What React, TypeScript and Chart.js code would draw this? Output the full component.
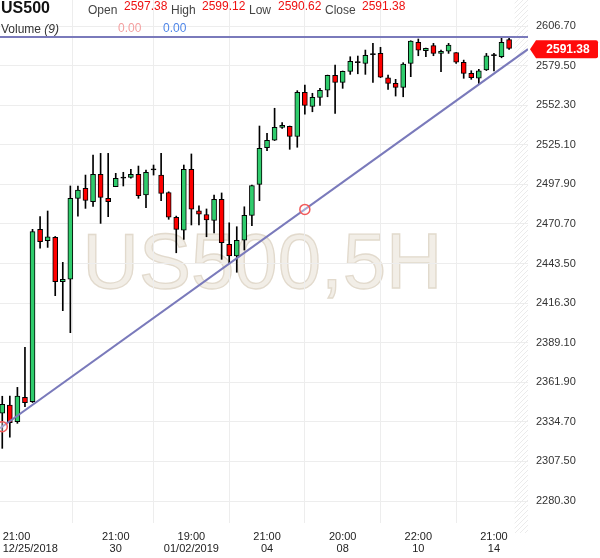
import React, { useEffect, useRef } from 'react';
import { Chart, registerables } from 'chart.js';
Chart.register(...registerables);

// ---- data (5H candles, US500) ----
const opens = [
  2340.6, 2346.3, 2334.8, 2351.6, 2348.5, 2467.0, 2459.2, 2461.5, 2431.0, 2432.7,
  2488.3, 2495.2, 2486.0, 2504.8, 2488.3, 2496.3, 2502.1, 2502.7, 2504.8, 2490.6,
  2507.8, 2504.3, 2492.2, 2475.3, 2466.5, 2508.2, 2479.8, 2477.2, 2473.1, 2487.6,
  2456.7, 2448.7, 2459.5, 2476.6, 2497.9, 2523.1, 2528.2, 2537.1, 2537.8, 2530.8,
  2561.2, 2551.5, 2557.7, 2562.7, 2572.8, 2568.0, 2575.6, 2581.5, 2581.1, 2587.0,
  2587.9, 2571.2, 2567.3, 2564.6, 2581.1, 2595.5, 2589.7, 2593.2, 2587.9, 2589.5,
  2588.4, 2581.8, 2574.2, 2570.8, 2576.5, 2586.3, 2585.6, 2597.38,
];
const closes = [
  2346.8, 2334.1, 2352.5, 2347.9, 2465.4, 2458.5, 2461.9, 2431.0, 2432.7, 2488.3,
  2494.0, 2486.8, 2504.8, 2489.0, 2486.0, 2502.1, 2502.1, 2504.8, 2490.1, 2506.2,
  2507.8, 2491.7, 2475.3, 2467.0, 2508.2, 2480.8, 2477.5, 2473.4, 2487.6, 2457.8,
  2448.7, 2459.5, 2476.6, 2497.1, 2522.7, 2528.2, 2537.1, 2538.5, 2530.9, 2561.2,
  2552.2, 2557.7, 2562.5, 2572.8, 2568.0, 2575.6, 2582.5, 2581.5, 2586.6, 2587.0,
  2571.5, 2567.3, 2564.6, 2580.6, 2596.4, 2590.2, 2591.4, 2587.9, 2589.3, 2593.7,
  2581.8, 2574.2, 2571.2, 2576.0, 2586.3, 2586.3, 2595.5, 2591.38,
];
const highs = [
  2352.3, 2352.5, 2358.4, 2385.9, 2467.0, 2475.7, 2479.6, 2462.1, 2444.3, 2496.8,
  2496.8, 2504.3, 2518.1, 2519.2, 2519.2, 2505.5, 2506.2, 2508.2, 2510.5, 2507.8,
  2511.2, 2519.2, 2492.8, 2476.1, 2511.2, 2518.8, 2483.2, 2481.0, 2490.6, 2492.0,
  2471.5, 2468.8, 2482.5, 2497.5, 2538.0, 2533.0, 2550.2, 2540.3, 2538.0, 2562.3,
  2566.2, 2560.5, 2563.9, 2573.0, 2579.9, 2575.8, 2585.6, 2586.1, 2590.2, 2594.8,
  2592.1, 2573.0, 2570.1, 2581.5, 2596.6, 2597.8, 2591.6, 2594.8, 2590.2, 2594.8,
  2588.5, 2583.3, 2576.0, 2577.0, 2587.9, 2587.9, 2598.3, 2599.12,
];
const lows = [
  2316.5, 2324.1, 2333.7, 2345.1, 2348.0, 2454.0, 2454.6, 2421.4, 2411.1, 2396.0,
  2476.1, 2481.4, 2482.8, 2471.1, 2475.7, 2496.3, 2496.8, 2502.1, 2488.3, 2481.9,
  2504.3, 2486.7, 2473.9, 2450.9, 2460.1, 2470.0, 2470.0, 2461.9, 2464.5, 2446.4,
  2443.6, 2437.5, 2452.8, 2469.5, 2486.7, 2521.0, 2528.0, 2536.4, 2522.0, 2523.4,
  2546.2, 2547.8, 2552.2, 2558.1, 2546.7, 2563.9, 2573.5, 2573.9, 2573.5, 2568.0,
  2571.3, 2563.2, 2558.6, 2558.1, 2571.9, 2586.3, 2585.6, 2586.3, 2575.3, 2587.9,
  2581.1, 2570.8, 2570.1, 2566.9, 2576.1, 2575.8, 2584.9, 2590.62,
];

const yTicks = [
  2280.3, 2307.5, 2334.7, 2361.9, 2389.1, 2416.3, 2443.5, 2470.7, 2497.9, 2525.1,
  2552.3, 2579.5, 2606.7,
];
const xTickIndex = [0, 15, 25, 35, 45, 55, 65];
const xTickTimes = ['21:00', '21:00', '19:00', '21:00', '20:00', '22:00', '21:00'];
const xTickDates = ['12/25/2018', '30', '01/02/2019', '04', '08', '10', '14'];

const resistanceLevel = 2599.12;
const trendAnchorIdx = [0, 40];
const trendAnchorPrice = [2331.4, 2480.7];

const headerLabels = ['Open', 'High', 'Low', 'Close'];
const headerValues = ['2597.38', '2599.12', '2590.62', '2591.38'];
const volumeValues = ['0.00', '0.00'];

// ---- style constants ----
const X_MIN = -0.3;
const X_MAX = 69.5;
const Y_MIN = 2265.2;
const Y_MAX = 2624.6;
const FIRST_LABEL_SHIFT = 3.7;
const FUTURE_START = 67.7;
const UP = '#2fcc6c';
const DOWN = '#ff0000';
const FONT = '"Liberation Sans", Arial, sans-serif';

function trendAt(x: number) {
  const slope = (trendAnchorPrice[1] - trendAnchorPrice[0]) / (trendAnchorIdx[1] - trendAnchorIdx[0]);
  return trendAnchorPrice[0] + slope * (x - trendAnchorIdx[0]);
}

const watermarkPlugin = {
  id: 'watermark',
  beforeDraw(chart: any) {
    const { ctx, chartArea } = chart;
    ctx.save();
    ctx.font = `78px ${FONT}`;
    ctx.textAlign = 'center';
    ctx.textBaseline = 'alphabetic';
    ctx.fillStyle = '#f2eee7';
    ctx.strokeStyle = '#e2dacd';
    ctx.lineWidth = 1.3;
    const cx = (chartArea.left + chartArea.right) / 2 - 1.5;
    ctx.fillText('US500,5H', cx, 288);
    ctx.strokeText('US500,5H', cx, 288);
    ctx.restore();
  },
};

const hatchPlugin = {
  id: 'hatch',
  beforeDatasetsDraw(chart: any) {
    const { ctx, chartArea, scales } = chart;
    const x0 = scales.x.getPixelForValue(FUTURE_START);
    const x1 = chartArea.right;
    const y0 = chartArea.top;
    const y1 = chartArea.bottom + 10;
    ctx.save();
    ctx.beginPath();
    ctx.rect(x0, y0, x1 - x0, y1 - y0);
    ctx.clip();
    ctx.strokeStyle = '#ebebeb';
    ctx.lineWidth = 1;
    for (let s = y0 - 40; s < y1 + 40; s += 5) {
      ctx.beginPath();
      ctx.moveTo(x0, s + (x1 - x0));
      ctx.lineTo(x1, s);
      ctx.stroke();
    }
    ctx.restore();
  },
};

const badgePlugin = {
  id: 'badge',
  afterDraw(chart: any) {
    const { ctx, chartArea, scales } = chart;
    const last = closes[closes.length - 1];
    const cy = scales.y.getPixelForValue(last) + 1;
    const left = chartArea.right + 2;
    const right = chart.width - 2;
    const h = 9;
    ctx.save();
    ctx.fillStyle = '#ff0a0a';
    ctx.beginPath();
    ctx.moveTo(left, cy);
    ctx.lineTo(left + 6, cy - h);
    ctx.lineTo(right - 2, cy - h);
    ctx.quadraticCurveTo(right, cy - h, right, cy - h + 2);
    ctx.lineTo(right, cy + h - 2);
    ctx.quadraticCurveTo(right, cy + h, right - 2, cy + h);
    ctx.lineTo(left + 6, cy + h);
    ctx.closePath();
    ctx.fill();
    ctx.fillStyle = '#ffffff';
    ctx.font = `bold 12px ${FONT}`;
    ctx.textAlign = 'center';
    ctx.textBaseline = 'middle';
    ctx.fillText(last.toFixed(2), (left + 8 + right) / 2, cy + 0.5);
    ctx.restore();
  },
};

export default function App() {
  const canvasRef = useRef<HTMLCanvasElement | null>(null);

  useEffect(() => {
    if (!canvasRef.current) return;
    const bodyColors = opens.map((o, i) =>
      closes[i] > o ? UP : closes[i] < o ? DOWN : '#000000'
    );
    const chart = new Chart(canvasRef.current, {
      type: 'bar',
      data: {
        datasets: [
          {
            type: 'scatter' as any,
            data: trendAnchorIdx.map((x, i) => ({ x, y: trendAnchorPrice[i] })),
            pointRadius: 5,
            pointBorderWidth: 1.5,
            pointBorderColor: '#f25a5a',
            pointBackgroundColor: 'rgba(255,255,255,0.35)',
            order: -2,
          } as any,
          {
            type: 'line' as any,
            data: [
              { x: X_MIN, y: trendAt(X_MIN) },
              { x: X_MAX, y: trendAt(X_MAX) },
            ],
            borderColor: '#7a7abb',
            borderWidth: 2,
            pointRadius: 0,
            order: -1,
          } as any,
          {
            type: 'line' as any,
            data: [
              { x: X_MIN, y: resistanceLevel },
              { x: X_MAX, y: resistanceLevel },
            ],
            borderColor: '#7a7abb',
            borderWidth: 2,
            pointRadius: 0,
            order: -1,
          } as any,
          {
            data: opens.map((o, i) => ({ x: i, y: [o, closes[i]] })),
            backgroundColor: bodyColors,
            borderColor: '#000000',
            borderWidth: 1,
            borderSkipped: false,
            barThickness: 5,
            minBarLength: 1.2,
            grouped: false,
            order: 1,
          } as any,
          {
            data: lows.map((l, i) => ({ x: i, y: [l, highs[i]] })),
            backgroundColor: '#000000',
            borderWidth: 0,
            barThickness: 1,
            grouped: false,
            order: 2,
          } as any,
        ],
      },
      options: {
        responsive: false,
        animation: false,
        devicePixelRatio: 1,
        layout: { padding: 0, autoPadding: false },
        plugins: {
          legend: { display: false },
          tooltip: { enabled: false },
        },
        scales: {
          x: {
            type: 'linear',
            min: X_MIN,
            max: X_MAX,
            offset: false,
            border: { display: false },
            grid: {
              drawTicks: false,
              color: (ctx: any) =>
                ctx.tick && Math.abs(ctx.tick.value - (xTickIndex[0] + FIRST_LABEL_SHIFT)) < 1e-6
                  ? 'rgba(0,0,0,0)'
                  : '#ededed',
            },
            afterBuildTicks: (axis: any) => {
              const t: any[] = [];
              xTickIndex.forEach((v, i) => {
                t.push({ value: v });
                if (i === 0) t.push({ value: v + FIRST_LABEL_SHIFT });
              });
              axis.ticks = t;
            },
            afterFit: (axis: any) => {
              axis.height = 35;
              axis.paddingLeft = 0;
              axis.paddingRight = 0;
            },
            ticks: {
              autoSkip: false,
              maxRotation: 0,
              minRotation: 0,
              padding: 8,
              color: '#222222',
              font: { family: FONT, size: 11, lineHeight: 1.1 },
              callback: (value: any) => {
                if (Math.abs(value - (xTickIndex[0] + FIRST_LABEL_SHIFT)) < 1e-6) {
                  // first label is left-aligned at the chart edge in the original
                  return [xTickTimes[0] + ' '.repeat(9), xTickDates[0]];
                }
                const i = xTickIndex.indexOf(value);
                if (i <= 0) return '';
                return [xTickTimes[i], xTickDates[i]];
              },
            },
          },
          y: {
            type: 'linear',
            position: 'right',
            min: Y_MIN,
            max: Y_MAX,
            border: { display: false },
            grid: { drawTicks: false, color: '#ededed' },
            afterBuildTicks: (axis: any) => {
              axis.ticks = yTicks.map((v) => ({ value: v }));
            },
            afterFit: (axis: any) => {
              axis.width = 72;
              axis.paddingTop = 0;
              axis.paddingBottom = 0;
            },
            ticks: {
              padding: 8,
              color: '#333333',
              font: { family: FONT, size: 11 },
              callback: (value: any) => Number(value).toFixed(2),
            },
          },
        },
      } as any,
      plugins: [watermarkPlugin, hatchPlugin, badgePlugin],
    });
    return () => chart.destroy();
  }, []);

  const labelX = [88, 171, 249, 325];
  const valueX = [124, 202, 278, 362];
  const base: React.CSSProperties = {
    position: 'absolute',
    fontFamily: FONT,
    fontSize: 12,
    lineHeight: '12px',
    whiteSpace: 'nowrap',
  };

  return (
    <div style={{ position: 'absolute', left: 0, top: 0, width: 600, height: 558, background: '#fff' }}>
      <canvas ref={canvasRef} width={600} height={558} style={{ display: 'block', width: 600, height: 558 }} />
      <div style={{ position: 'absolute', left: 0, top: 0, width: 600, height: 40, pointerEvents: 'none' }}>
        <div style={{ ...base, left: 1, top: 0, fontSize: 16, lineHeight: '16px', fontWeight: 'bold', color: '#111' }}>
          US500
        </div>
        {headerLabels.map((l, i) => (
          <div key={'l' + i} style={{ ...base, left: labelX[i], top: 4, color: '#444' }}>
            {l}
          </div>
        ))}
        {headerValues.map((v, i) => (
          <div key={'v' + i} style={{ ...base, left: valueX[i], top: 0, color: '#ee1111' }}>
            {v}
          </div>
        ))}
        <div style={{ ...base, left: 1, top: 23, color: '#333' }}>
          Volume <i>(9)</i>
        </div>
        <div style={{ ...base, left: 118, top: 22, color: '#f4a0a0' }}>{volumeValues[0]}</div>
        <div style={{ ...base, left: 163, top: 22, color: '#4f86e8' }}>{volumeValues[1]}</div>
      </div>
    </div>
  );
}
